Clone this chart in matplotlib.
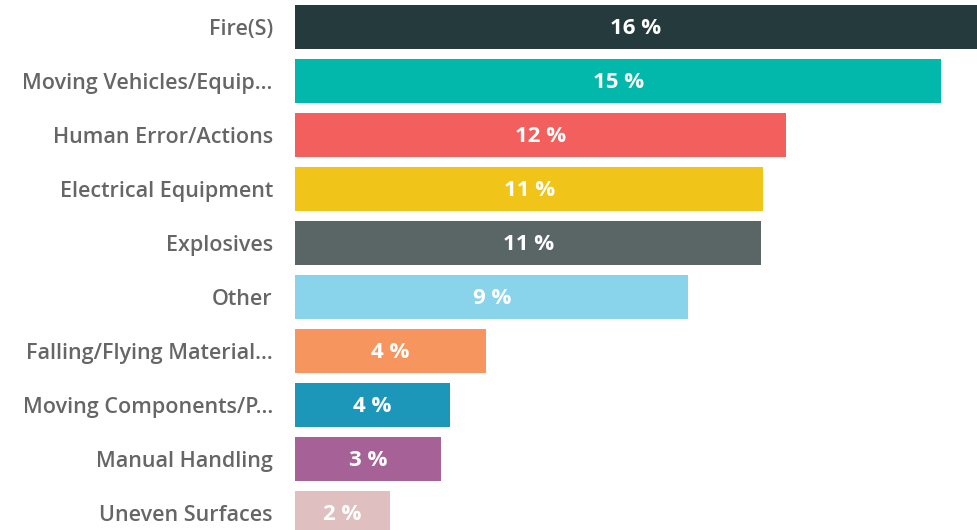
import matplotlib
matplotlib.use("Agg")
import matplotlib.pyplot as plt

# categories, top to bottom
categories = ["Fire(S)", "Moving Vehicles/Equip...", "Human Error/Actions",
              "Electrical Equipment", "Explosives", "Other",
              "Falling/Flying Material...", "Moving Components/P...",
              "Manual Handling", "Uneven Surfaces"]
values = [16.2, 15.16, 11.53, 10.99, 10.94, 9.23, 4.48, 3.64, 3.43, 2.23]
labels = ["16 %", "15 %", "12 %", "11 %", "11 %", "9 %", "4 %", "4 %", "3 %", "2 %"]
colors = ["#253A3D", "#01B8AA", "#F25F5C", "#F0C419", "#5A6566", "#8AD4EB",
          "#F7955E", "#1C97BA", "#A66197", "#DFBFBF"]

plt.rcParams['font.family'] = ['Open Sans', 'DejaVu Sans']

fig = plt.figure(figsize=(9.77, 5.3), dpi=100)
ax = fig.add_axes([295 / 977, 0, 1 - 295 / 977, 1])

xmax = 16.0
ypos = list(range(len(categories)))
ax.barh(ypos, values, height=0.8, color=colors)

for y, v, lab in zip(ypos, values, labels):
    ax.text(min(v, xmax) / 2, y + 0.03, lab, ha='center', va='center',
            color='white', fontsize=16, fontweight='bold')

ax.set_xlim(0, xmax)
ax.set_ylim(9 + 0.315, -0.5)
ax.set_yticks(ypos)
ax.set_yticklabels(categories, fontsize=15.5, color='#666666', fontweight='semibold')
ax.tick_params(axis='y', length=0, pad=16)
ax.set_xticks([])
for s in ax.spines.values():
    s.set_visible(False)

fig.savefig("out.png", dpi=100)
